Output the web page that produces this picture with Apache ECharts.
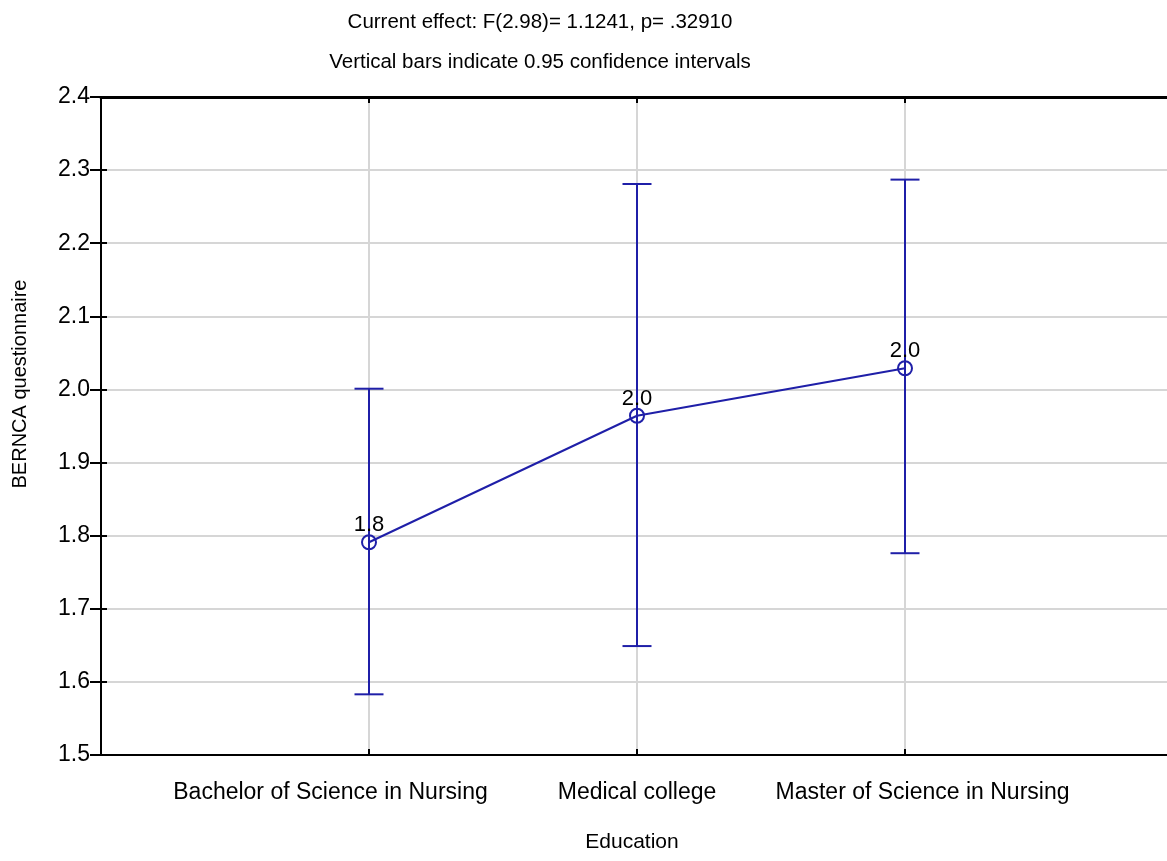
<!DOCTYPE html>
<html>
<head>
<meta charset="utf-8">
<script src="https://cdn.jsdelivr.net/npm/echarts@6/dist/echarts.min.js"></script>
<style>
html,body{margin:0;padding:0;background:#fff;}
#chart{width:1167px;height:861px;}
</style>
</head>
<body>
<div id="chart"></div>
<script>
const categories = ['Bachelor of Science in Nursing', 'Medical college', 'Master of Science in Nursing'];
const means = [1.791, 1.964, 2.029];
const lower = [1.583, 1.649, 1.776];
const upper = [2.001, 2.281, 2.287];
const yMin = 1.5, yMax = 2.4, yStep = 0.1;
const titleLine1 = 'Current effect: F(2.98)= 1.1241, p= .32910';
const titleLine2 = 'Vertical bars indicate 0.95 confidence intervals';
const xTitle = 'Education';
const yTitle = 'BERNCA questionnaire';

const BLUE = '#1f1fa8';
const GRID = '#d6d6d6';
const FONT = '"Liberation Sans", Arial, sans-serif';

const chart = echarts.init(document.getElementById('chart'));

const meanData = means.map((m, i) => [i + 1, m]);
const ciData = categories.map((c, i) => [i + 1, lower[i], upper[i]]);

const option = {
  backgroundColor: '#fff',
  animation: false,
  textStyle: { fontFamily: FONT },
  grid: { left: 101, right: -6, top: 97, bottom: 106, containLabel: false, outerBoundsMode: 'none' },
  xAxis: [
    {
      type: 'value', min: 0, max: categories.length + 1, interval: 1, position: 'bottom',
      axisLine: { show: true, lineStyle: { color: '#000', width: 2 } },
      axisTick: { show: true, inside: true, length: 6, lineStyle: { color: '#000', width: 2 } },
      splitLine: { show: true, lineStyle: { color: GRID, width: 2 } },
      axisLabel: {
        show: true, margin: 26, color: '#000', fontSize: 23, fontFamily: FONT,
        showMinLabel: true, showMaxLabel: true,
        formatter: function (v) {
          const idx = Math.round(v) - 1;
          if (idx < 0 || idx >= categories.length) return '';
          return '{c' + idx + '|' + categories[idx] + '}';
        },
        rich: {
          c0: { fontSize: 23, color: '#000', fontFamily: FONT, padding: [0, 77, 0, 0] },
          c1: { fontSize: 23, color: '#000', fontFamily: FONT },
          c2: { fontSize: 23, color: '#000', fontFamily: FONT, padding: [0, 0, 0, 35] }
        }
      }
    },
    {
      type: 'value', min: 0, max: categories.length + 1, interval: 1, position: 'top',
      axisLine: { show: true, lineStyle: { color: '#000', width: 3 } },
      axisTick: { show: true, inside: true, length: 6, lineStyle: { color: '#000', width: 2 } },
      splitLine: { show: false },
      axisLabel: { show: false }
    }
  ],
  yAxis: [
    {
      type: 'value', min: yMin, max: yMax, interval: yStep, position: 'left',
      axisLine: { show: true, lineStyle: { color: '#000', width: 2 } },
      axisTick: { show: true, inside: true, length: 6, lineStyle: { color: '#000', width: 2 } },
      splitLine: { show: true, lineStyle: { color: GRID, width: 2 } },
      axisLabel: {
        show: true, margin: 11, color: '#000', fontSize: 23, fontFamily: FONT,
        formatter: v => v.toFixed(1)
      }
    },
    {
      type: 'value', min: yMin, max: yMax, interval: yStep, position: 'right',
      axisLine: { show: true, lineStyle: { color: '#000', width: 2 } },
      axisTick: { show: true, inside: true, length: 11, lineStyle: { color: '#000', width: 2 } },
      splitLine: { show: false },
      axisLabel: { show: false }
    }
  ],
  graphic: [
    { type: 'text', x: 540, y: 22, style: { text: titleLine1, fill: '#000', font: '20.5px ' + FONT, align: 'center', verticalAlign: 'middle' } },
    { type: 'text', x: 540, y: 62, style: { text: titleLine2, fill: '#000', font: '20.5px ' + FONT, align: 'center', verticalAlign: 'middle' } },
    { type: 'text', x: 632, y: 842, style: { text: xTitle, fill: '#000', font: '21px ' + FONT, align: 'center', verticalAlign: 'middle' } },
    { type: 'text', x: 20, y: 384, rotation: Math.PI / 2, style: { text: yTitle, fill: '#000', font: '20px ' + FONT, align: 'center', verticalAlign: 'middle' } }
  ],
  series: [
    {
      type: 'custom',
      xAxisIndex: 0, yAxisIndex: 0,
      data: ciData,
      z: 3,
      renderItem: function (params, api) {
        const x = api.value(0);
        const lo = api.coord([x, api.value(1)]);
        const hi = api.coord([x, api.value(2)]);
        const hw = 14.5;
        const st = { stroke: BLUE, lineWidth: 2, fill: null };
        return {
          type: 'group',
          children: [
            { type: 'line', shape: { x1: lo[0], y1: lo[1], x2: hi[0], y2: hi[1] }, style: st },
            { type: 'line', shape: { x1: lo[0] - hw, y1: lo[1], x2: lo[0] + hw, y2: lo[1] }, style: st },
            { type: 'line', shape: { x1: hi[0] - hw, y1: hi[1], x2: hi[0] + hw, y2: hi[1] }, style: st }
          ]
        };
      }
    },
    {
      type: 'line',
      xAxisIndex: 0, yAxisIndex: 0,
      data: meanData,
      z: 4,
      symbol: 'circle',
      symbolSize: 14,
      lineStyle: { color: BLUE, width: 2 },
      itemStyle: { color: 'rgba(255,255,255,0)', borderColor: BLUE, borderWidth: 2 },
      label: {
        show: true, position: 'top', distance: -2, color: '#000', fontSize: 22, fontFamily: FONT,
        formatter: p => p.value[1].toFixed(1)
      }
    }
  ]
};

chart.setOption(option);
</script>
</body>
</html>
